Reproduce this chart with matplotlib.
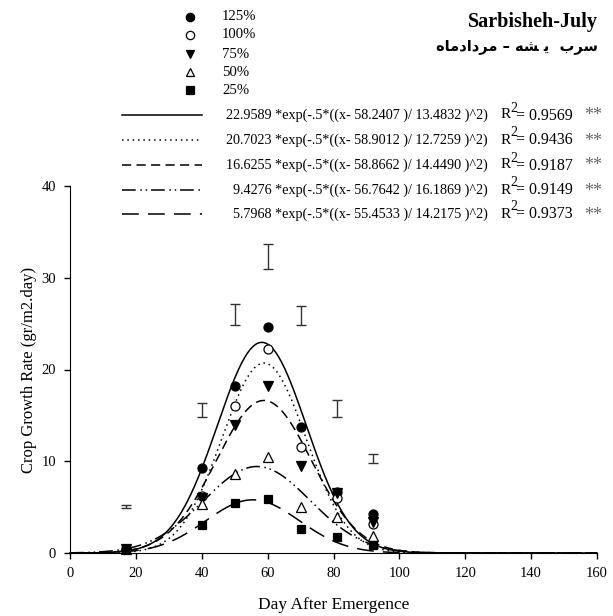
import numpy as np
import matplotlib
matplotlib.use("Agg")
import matplotlib.pyplot as plt
from matplotlib.lines import Line2D

plt.rcParams['font.family'] = ['Liberation Serif', 'DejaVu Serif']

# ---- data ----
days = [17, 40, 50, 60, 70, 81, 92]
cgr_125 = [0.45, 9.3, 18.2, 24.6, 13.7, 6.6, 4.2]
cgr_100 = [0.4, 6.25, 16.0, 22.25, 11.6, 6.0, 3.2]
cgr_75 = [0.4, 6.0, 13.9, 18.2, 9.45, 6.5, 3.35]
cgr_50 = [0.4, 5.3, 8.65, 10.5, 5.0, 3.9, 1.9]
cgr_25 = [0.45, 3.0, 5.4, 5.9, 2.6, 1.7, 0.85]

lsd_center = [5.05, 15.6, 26.0, 32.3, 25.9, 15.75, 10.3]
lsd_half = [0.15, 0.8, 1.1, 1.4, 1.0, 0.95, 0.5]

treatments = ['125%', '100%', '75%', '50%', '25%']
fit_a = [22.9589, 20.7023, 16.6255, 9.4276, 5.7968]
fit_b = [58.2407, 58.9012, 58.8662, 56.7642, 55.4533]
fit_c = [13.4832, 12.7259, 14.4490, 16.1869, 14.2175]
fit_r2 = [0.9569, 0.9436, 0.9187, 0.9149, 0.9373]

x_ticks = [0, 20, 40, 60, 80, 100, 120, 140, 160]
y_ticks = [0, 10, 20, 30, 40]

series = [cgr_125, cgr_100, cgr_75, cgr_50, cgr_25]
markers = ['o', 'o', 'v', '^', 's']
faces = ['black', 'white', 'black', 'white', 'black']
msizes = [6.5, 6.5, 6.5, 6.5, 6.0]
linestyles = ['-', (0, (1, 2.5)), (0, (6, 3.5)), (0, (9, 3, 1, 2.5, 1, 2.5)), (0, (11, 6))]

W, H = 613, 616
fig = plt.figure(figsize=(W / 100, H / 100), dpi=100)
ax = fig.add_axes([70 / W, 1 - 553 / H, (597 - 70) / W, (553 - 186) / H])

xs = np.linspace(0, 160, 800)
for a, b, c, ls in zip(fit_a, fit_b, fit_c, linestyles):
    ax.plot(xs, a * np.exp(-0.5 * ((xs - b) / c) ** 2), color='black', lw=1.1, ls=ls,
            clip_on=False, zorder=3)

for ys, m, fc, ms in zip(series, markers, faces, msizes):
    ax.plot(days, ys, ls='none', marker=m, mfc=fc, mec='black', ms=ms, mew=0.9,
            zorder=4, clip_on=False)

ax.errorbar(days, lsd_center, yerr=lsd_half, fmt='none', ecolor='#333333',
            elinewidth=1.0, capsize=3.5, capthick=1.0, zorder=2)

ax.set_xlim(0, 160)
ax.set_ylim(0, 40)
ax.set_xticks(x_ticks)
ax.set_yticks(y_ticks)
ax.spines['top'].set_visible(False)
ax.spines['right'].set_visible(False)
ax.tick_params(direction='out', length=4, width=1, labelsize=10.5, pad=6)
ax.set_xlabel('Day After Emergence', fontsize=12.5, labelpad=12)
ax.set_ylabel('Crop Growth Rate (gr/m2.day)', fontsize=12, labelpad=3)

# ---- legend / annotations in pixel coordinates ----
lax = fig.add_axes([0, 0, 1, 1], facecolor='none')
lax.set_xlim(0, W)
lax.set_ylim(H, 0)
lax.axis('off')

mark_rows = [17, 35, 54, 72, 90]
for yy, lab, m, fc, ms in zip(mark_rows, treatments, markers, faces, msizes):
    lax.plot([190], [yy], marker=m, mfc=fc, mec='black', ms=ms - 0.5, mew=0.9, ls='none')
    lax.text(222, yy, lab, fontsize=10.6, va='center', ha='left')

line_rows = [115, 140, 165, 190, 214]
for yy, a, b, c, r2, ls in zip(line_rows, fit_a, fit_b, fit_c, fit_r2, linestyles):
    lax.add_line(Line2D([122, 202], [yy, yy], color='black', lw=1.1, ls=ls))
    eq = f"{a:.4f} *exp(-.5*((x- {b:.4f} )/ {c:.4f} )^2)"
    lax.text(488, yy, eq, fontsize=10.2, va='center', ha='right')
    lax.text(501, yy, "R", fontsize=11, va='center', ha='left')
    lax.text(510.5, yy - 7, "2", fontsize=10, va='center', ha='left')
    lax.text(516.5, yy + 0.5, f"= {r2:.4f}", fontsize=11.5, va='center', ha='left')
    lax.text(602, yy + 1, "**", fontsize=13, va='center', ha='right', color='#666666')

lax.text(598, 22, 'Sarbisheh-July', fontsize=14.5, fontweight='bold', ha='right', va='center')
persian = ("\uFEE9\uFE8E\uFEE3\uFEA9\uFE8D\uFEA9\uFEAE\uFEE3" + " \u2013 " +
           "\uFEEA\uFEB8" + " " + "\uFEF3" + "  " + "\uFE8F\uFEAE\uFEB3")
lax.text(598, 46, persian, fontsize=10.5, fontweight='bold', ha='right', va='center',
         family=['DejaVu Sans'])

fig.savefig('out.png', dpi=100)
